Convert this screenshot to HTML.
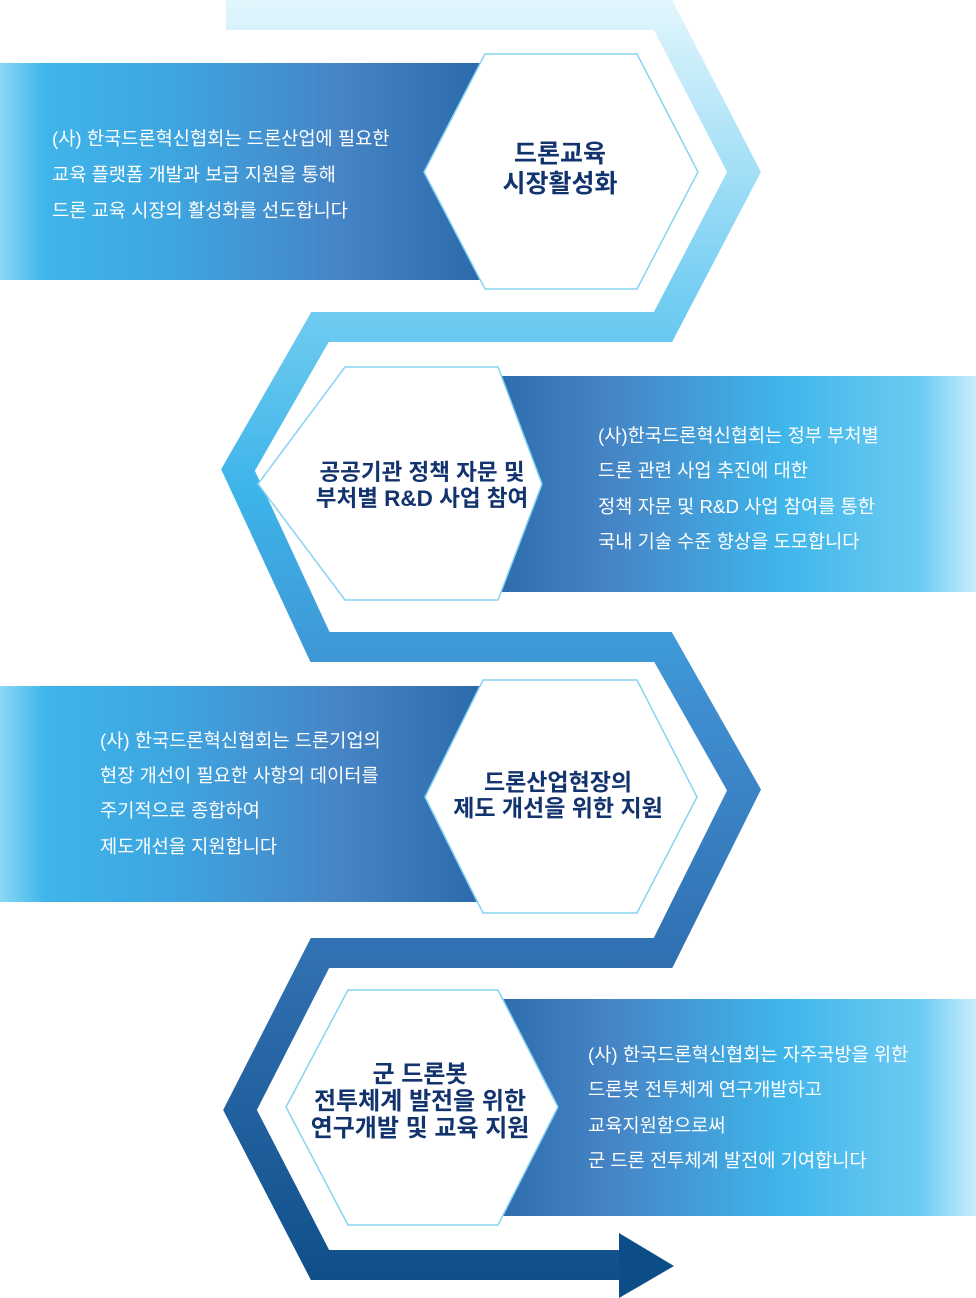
<!DOCTYPE html>
<html><head><meta charset="utf-8"><style>
html,body{margin:0;padding:0;background:#fff;}
svg{display:block;}
.t{font-family:"Liberation Sans","Noto Sans CJK KR",sans-serif;fill:#fff;font-size:18.7px;}
.h{font-family:"Liberation Sans","Noto Sans CJK KR",sans-serif;fill:#12336e;font-weight:bold;text-anchor:middle;}
</style></head><body>
<svg width="976" height="1298" viewBox="0 0 976 1298" xmlns="http://www.w3.org/2000/svg">
<defs>
<linearGradient id="snake" gradientUnits="userSpaceOnUse" x1="0" y1="0" x2="0" y2="1298">
<stop offset="0" stop-color="#e2f6fd"/>
<stop offset="0.22" stop-color="#78cff2"/>
<stop offset="0.38" stop-color="#3db4e9"/>
<stop offset="0.55" stop-color="#3f8dcf"/>
<stop offset="0.75" stop-color="#2f6fb0"/>
<stop offset="1" stop-color="#0d4d87"/>
</linearGradient>
<linearGradient id="bl" x1="0" y1="0" x2="1" y2="0">
<stop offset="0" stop-color="#8ad8f6"/>
<stop offset="0.08" stop-color="#3fb5ea"/>
<stop offset="0.3" stop-color="#3ea6e0"/>
<stop offset="0.6" stop-color="#4685c6"/>
<stop offset="1" stop-color="#1c5c9d"/>
</linearGradient>
<linearGradient id="br" x1="0" y1="0" x2="1" y2="0">
<stop offset="0" stop-color="#1c5c9d"/>
<stop offset="0.35" stop-color="#4685c6"/>
<stop offset="0.65" stop-color="#3fb5ea"/>
<stop offset="0.9" stop-color="#6ccbf2"/>
<stop offset="1" stop-color="#c9eefb"/>
</linearGradient>
</defs>

<polyline points="226,15 663,15 744,172 663,327 320,327 238,470 320,647 663,647 744,790 663,953 320,953 240,1110 320,1265 625,1265"
 fill="none" stroke="url(#snake)" stroke-width="30" stroke-linejoin="miter" stroke-miterlimit="10"/>
<polygon points="619,1233 674,1266 619,1298" fill="#0d4d87"/>

<rect x="0" y="63" width="560" height="217" fill="url(#bl)"/>
<rect x="420" y="376" width="556" height="216" fill="url(#br)"/>
<rect x="0" y="686" width="560" height="216" fill="url(#bl)"/>
<rect x="420" y="999" width="556" height="217" fill="url(#br)"/>

<polygon points="424,172 485,54 637,54 698,172 637,289 485,289" fill="#fff" stroke="#86d3f2" stroke-width="1.5"/>
<polygon points="258,484 345,367 498,367 542,484 498,600 345,600" fill="#fff" stroke="#86d3f2" stroke-width="1.5"/>
<polygon points="425,797 483,680 637,680 697,797 637,913 483,913" fill="#fff" stroke="#86d3f2" stroke-width="1.5"/>
<polygon points="286,1107 348,990 498,990 558,1107 498,1225 348,1225" fill="#fff" stroke="#86d3f2" stroke-width="1.5"/>

<text class="t" x="52" y="145">(사) 한국드론혁신협회는 드론산업에 필요한</text>
<text class="t" x="52" y="181">교육 플랫폼 개발과 보급 지원을 통해</text>
<text class="t" x="52" y="217">드론 교육 시장의 활성화를 선도합니다</text>

<text class="t" x="598" y="442">(사)한국드론혁신협회는 정부 부처별</text>
<text class="t" x="598" y="477">드론 관련 사업 추진에 대한</text>
<text class="t" x="598" y="513">정책 자문 및 R&amp;D 사업 참여를 통한</text>
<text class="t" x="598" y="548">국내 기술 수준 향상을 도모합니다</text>

<text class="t" x="100" y="747">(사) 한국드론혁신협회는 드론기업의</text>
<text class="t" x="100" y="782">현장 개선이 필요한 사항의 데이터를</text>
<text class="t" x="100" y="817">주기적으로 종합하여</text>
<text class="t" x="100" y="853">제도개선을 지원합니다</text>

<text class="t" x="588" y="1061">(사) 한국드론혁신협회는 자주국방을 위한</text>
<text class="t" x="588" y="1096">드론봇 전투체계 연구개발하고</text>
<text class="t" x="588" y="1132">교육지원함으로써</text>
<text class="t" x="588" y="1167">군 드론 전투체계 발전에 기여합니다</text>

<text class="h" x="560" y="162" font-size="25">드론교육</text>
<text class="h" x="560" y="192" font-size="25">시장활성화</text>

<text class="h" x="422" y="480" font-size="22.5">공공기관 정책 자문 및</text>
<text class="h" x="422" y="506" font-size="22.5">부처별 R&amp;D 사업 참여</text>

<text class="h" x="558" y="790" font-size="23">드론산업현장의</text>
<text class="h" x="558" y="816" font-size="23">제도 개선을 위한 지원</text>

<text class="h" x="420" y="1082" font-size="24">군 드론봇</text>
<text class="h" x="420" y="1109" font-size="24">전투체계 발전을 위한</text>
<text class="h" x="420" y="1136" font-size="24">연구개발 및 교육 지원</text>
</svg>
</body></html>
